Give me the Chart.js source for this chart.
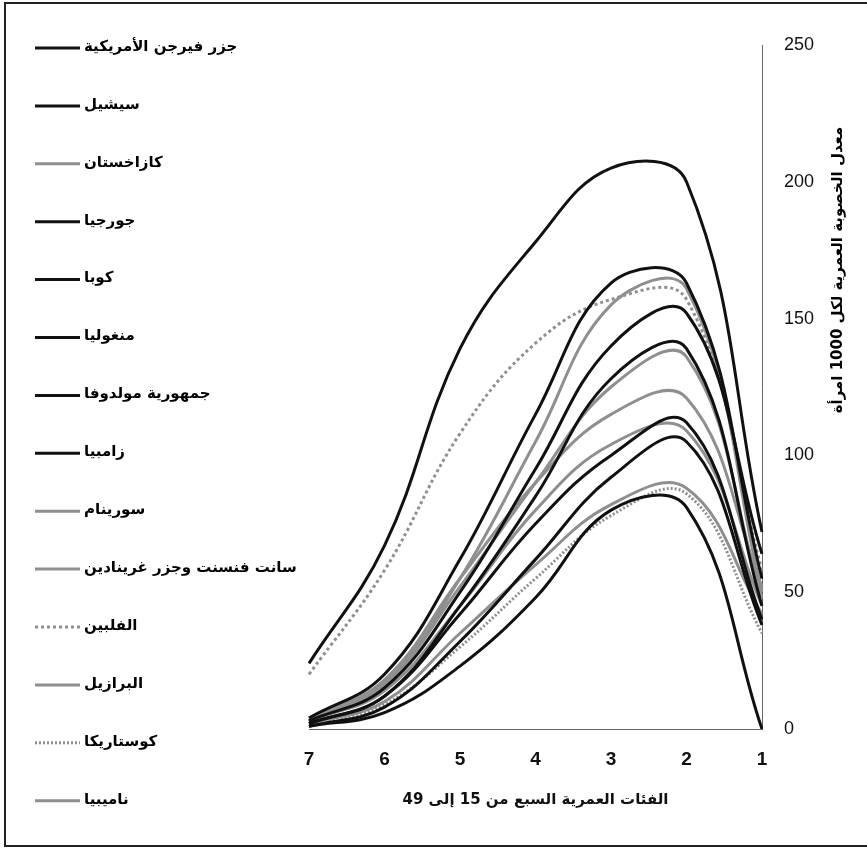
<!DOCTYPE html>
<html><head><meta charset="utf-8">
<script src="https://cdn.jsdelivr.net/npm/chart.js@4.4.0/dist/chart.umd.min.js"></script>
<style>html,body{margin:0;padding:0;background:#fff;}#wrap{position:relative;width:867px;height:850px;}</style>
</head><body><div id="wrap"><canvas id="c" width="867" height="850"></canvas></div>
<script>
// Age groups (7 = 45-49 ... 1 = 15-19), axis reversed as in the reference
const ageGroups = ['7','6','5','4','3','2','1'];
const yTickStep = 50;
const yMax = 250;
const xTitle = 'الفئات العمرية السبع من 15 إلى 49';
const yTitle = 'معدل الخصوبة العمرية لكل 1000 امرأة';

const countryNames = [
  'جزر فيرجن الأمريكية','سيشيل','كازاخستان','جورجيا','كوبا','منغوليا','جمهورية مولدوفا',
  'زامبيا','سورينام','سانت فنسنت وجزر غرينادين','الفلبين','البرازيل','كوستاريكا','ناميبيا'
];

const virginIslands = [3, 15, 50, 95, 140, 152, 64];
const seychelles    = [2, 12, 42, 75, 100, 112, 40];
const kazakhstan    = [3, 17, 55, 105, 155, 161, 50];
const georgia       = [1, 6, 23, 48, 80, 81, 0];
const cuba          = [1, 8, 32, 62, 92, 105, 38];
const mongolia      = [4, 20, 62, 115, 163, 163, 55];
const moldova       = [2, 12, 45, 85, 128, 139, 45];
const zambia        = [24, 67, 139, 178, 205, 200, 72];
const suriname      = [3, 16, 52, 90, 125, 136, 48];
const stVincent     = [4, 18, 55, 90, 115, 121, 52];
const philippines   = [20, 58, 108, 141, 157, 157, 58];
const brazil        = [2, 10, 35, 60, 82, 88, 42];
const costaRica     = [2, 9, 30, 55, 78, 86, 35];
const namibia       = [3, 14, 45, 80, 104, 109, 45];

const seriesData = [virginIslands, seychelles, kazakhstan, georgia, cuba, mongolia, moldova,
  zambia, suriname, stVincent, philippines, brazil, costaRica, namibia];

const BLACK = '#111111', GREY = '#8f8f8f';
const seriesColor = [BLACK, BLACK, GREY, BLACK, BLACK, BLACK, BLACK, BLACK, GREY, GREY, GREY, GREY, GREY, GREY];
const seriesDash  = [[],[],[],[],[],[],[],[],[],[],[3,3],[],[2,2],[]];

const datasets = seriesData.map((d, i) => ({
  label: countryNames[i],
  data: d,
  borderColor: seriesColor[i],
  backgroundColor: seriesColor[i],
  borderWidth: 3,
  borderDash: seriesDash[i],
  pointRadius: 0,
  tension: 0.4,
  fill: false,
  order: seriesColor[i] === GREY ? 1 : 0
}));

const ARABIC_FONT = '"DejaVu Sans", sans-serif';

const legendAndFrame = {
  id: 'legendAndFrame',
  afterDraw(chart) {
    const ctx = chart.ctx;
    ctx.save();
    // legend
    chart.data.datasets.forEach((ds, i) => {
      const y = 47 + i * 57.9;
      ctx.beginPath();
      ctx.setLineDash(ds.borderDash || []);
      ctx.strokeStyle = ds.borderColor;
      ctx.lineWidth = 3;
      ctx.moveTo(35, y + 1);
      ctx.lineTo(80, y + 1);
      ctx.stroke();
      ctx.setLineDash([]);
      ctx.fillStyle = '#000';
      ctx.font = 'bold 15px ' + ARABIC_FONT;
      ctx.textAlign = 'left';
      ctx.textBaseline = 'middle';
      ctx.fillText(ds.label, 84, y);
    });
    // y axis title (rotated CCW)
    ctx.translate(838, 270);
    ctx.rotate(-Math.PI / 2);
    ctx.font = 'bold 15px ' + ARABIC_FONT;
    ctx.textAlign = 'center';
    ctx.textBaseline = 'middle';
    ctx.fillText(yTitle, 0, 0);
    ctx.restore();
    // frame
    ctx.save();
    ctx.strokeStyle = '#222';
    ctx.lineWidth = 2;
    ctx.strokeRect(5, 3, 880, 843);
    ctx.restore();
  }
};

new Chart(document.getElementById('c'), {
  type: 'line',
  data: { labels: ageGroups, datasets },
  options: {
    responsive: false,
    animation: false,
    layout: { padding: { left: 309, top: 45, right: 0, bottom: 0 } },
    plugins: { legend: { display: false }, tooltip: { enabled: false } },
    scales: {
      x: {
        type: 'category',
        offset: false,
        grid: { display: false, drawTicks: false },
        border: { display: true, color: '#666', dash: [2, 2], width: 1 },
        ticks: { color: '#111', padding: 19, maxRotation: 0, font: { family: '"Liberation Sans", sans-serif', size: 19, weight: 'bold' } },
        title: { display: true, text: xTitle, color: '#111', font: { family: ARABIC_FONT, size: 15, weight: 'bold' }, padding: { top: 0, bottom: 41 } },
        afterFit(scale) { scale.height = 121; }
      },
      y: {
        position: 'right',
        min: 0, max: yMax,
        grid: { display: false, drawTicks: false },
        border: { display: true, color: '#666', dash: [2, 2], width: 1 },
        ticks: { stepSize: yTickStep, color: '#111', padding: 22, font: { family: '"Liberation Sans", sans-serif', size: 18 } },
        afterFit(scale) { scale.width = 105; }
      }
    }
  },
  plugins: [legendAndFrame]
});
</script></body></html>
